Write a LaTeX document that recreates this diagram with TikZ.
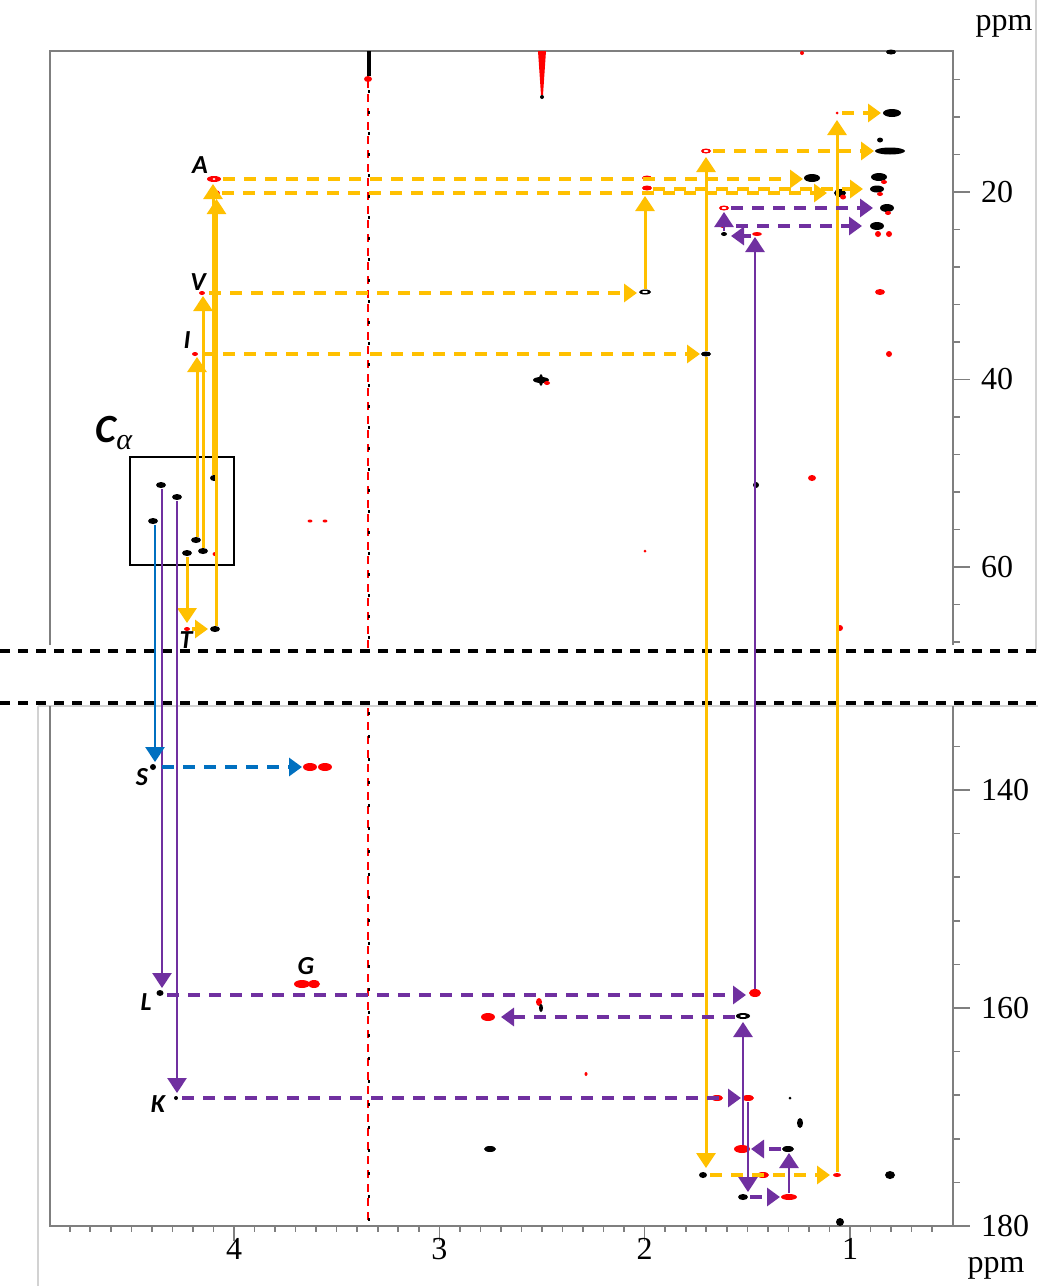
\documentclass[tikz,border=0pt]{standalone}
\usepackage{fontspec}
\setmainfont{Liberation Serif}
\newfontfamily\lblfont{Carlito}
\usetikzlibrary{arrows.meta}
\definecolor{gold}{HTML}{FFC000}
\definecolor{purp}{HTML}{7030A0}
\definecolor{blu}{HTML}{0070C0}
\definecolor{axgray}{HTML}{7F7F7F}
\newcommand{\pkb}[4]{\fill[black] (#1,#2) ellipse [x radius=#3, y radius=#4];}
\newcommand{\pkr}[4]{\fill[red] (#1,#2) ellipse [x radius=#3, y radius=#4];}
\newcommand{\pkw}[4]{\fill[white] (#1,#2) ellipse [x radius=#3, y radius=#4];}
\tikzset{
  gs/.style={gold, line width=1.5pt, -{Triangle[width=9.5pt,length=7.5pt]}},
  gd/.style={gold, line width=1.6pt, dash pattern=on 6pt off 4.5pt, -{Triangle[width=9pt,length=6.5pt]}},
  ps/.style={purp, line width=1.4pt, -{Triangle[width=9.5pt,length=7.5pt]}},
  pd/.style={purp, line width=1.6pt, dash pattern=on 6pt off 4.5pt, -{Triangle[width=9pt,length=6.5pt]}},
  bs/.style={blu, line width=1.4pt, -{Triangle[width=9.5pt,length=7.5pt]}},
  bd/.style={blu, line width=1.6pt, dash pattern=on 6pt off 4.5pt, -{Triangle[width=9pt,length=6.5pt]}},
  axis/.style={axgray, line width=0.8pt},
  faint/.style={gray!35, line width=0.6pt},
  brk/.style={black, line width=1.6pt, dash pattern=on 5pt off 4pt},
  lbl/.style={font={\lblfont\bfseries\itshape\fontsize{13}{13}\selectfont}},
  num/.style={font={\fontsize{16}{16}\selectfont}},
}
\begin{document}
\begin{tikzpicture}[x=0.5pt,y=-0.5pt]
\useasboundingbox (0,0) rectangle (1038,1286);
\fill[white] (0,0) rectangle (1038,1286);

% ---------- frames and axes ----------
\draw[faint] (1036,0) -- (1036,651);
\draw[faint] (38,706) -- (38,1286);
\draw[faint] (38,706) -- (1038,706);
\draw[axis] (50,645) -- (50,51) -- (953,51) -- (953,645);
\draw[axis] (50,706) -- (50,1226) -- (953,1226) -- (953,706);
\foreach \c in {8,12,...,68} \draw[axis] (953,{192+(\c-20)*9.375}) -- ++(7,0);
\foreach \c in {136,140,...,180} \draw[axis] (953,{790+(\c-140)*10.9}) -- ++(7,0);
\foreach \c in {20,40,60} {
  \draw[axis] (953,{192+(\c-20)*9.375}) -- ++(17,0);
  \node[num, anchor=west] (ly\c) at (974,{192+(\c-20)*9.375}) {\c};
}
\foreach \c in {140,160,180} {
  \draw[axis] (953,{790+(\c-140)*10.9}) -- ++(17,0);
  \node[num, anchor=west] (ly\c) at (974,{790+(\c-140)*10.9}) {\c};
}
\foreach \i in {6,...,48} \draw[axis] ({850+(1-\i/10)*205.33},1226) -- ++(0,6);
\foreach \p in {1,2,3,4} {
  \draw[axis] ({850+(1-\p)*205.33},1226) -- ++(0,15);
  \node[num] (lx\p) at ({850+(1-\p)*205.33},1249) {\p};
}
\node[num] (ppmtop) at (1004,26) {ppm};
\node[num] (ppmbot) at (996,1268) {ppm};

% ---------- break ----------
\draw[brk] (0,651) -- (1038,651);
\draw[brk] (0,703) -- (1038,703);

% ---------- solvent stripes ----------
\draw[red, line width=0.9pt, dash pattern=on 4pt off 3pt] (368,80) -- (368,650);
\draw[black, line width=0.9pt, dash pattern=on 1.5pt off 9pt] (369,90) -- (369,650);
\draw[red, line width=0.9pt, dash pattern=on 4pt off 3pt] (368,708) -- (368,1222);
\draw[black, line width=0.9pt, dash pattern=on 1.5pt off 10pt] (369,712) -- (369,1222);
\draw[black, line width=2pt] (369,51) -- (369,76);
\pkr{368}{79}{4}{3}
\fill[red] (538,51) -- (546,51) -- (543,95) -- (541,95) -- cycle;
\pkb{542}{97}{2}{2}

% ---------- peaks: upper panel ----------
\pkr{214}{179}{7}{3}  \pkw{214}{179}{1.5}{1}
\pkr{215}{193}{5}{3}
\pkr{202}{293}{3}{2}
\pkr{195}{354}{3}{2}
\pkb{214}{478}{4}{3}
\pkb{196}{540}{5}{3}
\pkb{203}{551}{5}{3}
\pkb{187}{553}{5}{3}
\pkr{215}{554}{2.5}{2}
\pkb{161}{485}{5}{3}
\pkb{177}{497}{5}{3}
\pkb{153}{521}{5}{3}
\pkr{187}{629}{3}{2}
\pkb{215}{629}{5}{3}
\pkr{647}{178}{5}{2.5}
\pkr{647}{188}{5}{2.5}
\pkb{645}{292}{6}{2.5} \pkw{645}{292}{3}{1}
\pkb{706}{354}{5}{2.5}
\pkr{706}{151}{5}{2.5} \pkw{706}{151}{2.5}{1}
\pkr{724}{208}{5}{2.5} \pkw{724}{208}{2.5}{1}
\pkr{723}{226}{3}{2}
\pkb{724}{234}{3}{2}
\pkr{757}{234}{5}{2}
\pkr{837}{113}{1.5}{1.5}
\pkb{892}{113}{9}{4}
\pkb{880}{140}{3}{2.5}
\pkb{890}{151}{15}{3.5}
\pkb{812}{178}{8}{4}
\pkb{879}{177}{8}{4}
\pkr{884}{182}{3}{2}
\pkb{877}{189}{7}{3.5}
\pkr{880}{194}{3}{2}
\pkb{840}{193}{6}{4}
\pkr{843}{197}{3}{2.5}
\pkb{887}{208}{7}{4}
\pkr{888}{213}{3}{2}
\pkb{877}{226}{7}{4}
\pkr{878}{234}{3}{3}
\pkr{889}{234}{3}{3}
\pkr{880}{292}{5}{3}
\pkr{889}{354}{3}{3}
\pkb{541}{380}{8}{3}
\pkb{541}{380}{2}{6}
\pkr{547}{383}{3}{2}
\pkr{812}{478}{4}{3}
\pkb{756}{485}{3}{3}
\pkr{310}{521}{2.5}{1.5}
\pkr{325}{521}{2.5}{1.5}
\pkr{645}{551}{1.5}{1.5}
\pkr{840}{628}{3}{3}
\pkb{891}{52}{5}{2.5}
\pkr{802}{53}{2}{2}

% ---------- peaks: lower panel ----------
\pkb{153}{767}{3}{3}
\pkr{310}{767}{7}{4}
\pkr{325}{767}{7}{4}
\pkr{302}{984}{8}{4}
\pkr{314}{984}{6}{4}
\pkb{160}{993}{3.5}{3}
\pkb{176}{1098}{2}{2}
\pkr{755}{993}{6}{4}
\pkb{743}{1016}{7}{3} \pkw{743}{1016}{3}{1}
\pkr{539}{1002}{3}{4}
\pkb{541}{1008}{2}{4}
\pkr{488}{1017}{7}{4}
\pkr{586}{1074}{1.5}{2}
\pkr{717}{1098}{6}{3}
\pkr{748}{1098}{6}{3}
\pkb{790}{1098}{1.5}{1.5}
\pkb{800}{1123}{3}{5}
\pkb{490}{1149}{6}{3}
\pkr{742}{1149}{8}{4}
\pkb{788}{1149}{6}{3}
\pkb{703}{1175}{4}{3}
\pkr{763}{1175}{6}{3}
\pkr{837}{1175}{4}{2}
\pkb{890}{1175}{5}{4}
\pkb{743}{1197}{5}{3}
\pkr{789}{1197}{8}{3}
\pkb{840}{1222}{4}{4}

% ---------- C alpha box ----------
\draw[black, line width=1.1pt] (130,457) rectangle (234,565);
\node[font={\lblfont\bfseries\itshape\fontsize{20}{20}\selectfont}, inner sep=0pt] (calpha) at (114,433) {C\raisebox{-0.4ex}{\normalfont\itshape\fontsize{15}{15}\selectfont α}};

% ---------- residue labels ----------
\node[lbl] (lA) at (200,165) {A};
\node[lbl] (lV) at (198,282) {V};
\node[lbl] (lI) at (187,340) {I};
\node[lbl] (lT) at (186,640) {T};
\node[lbl] (lS) at (142,777) {S};
\node[lbl] (lG) at (306,966) {G};
\node[lbl] (lL) at (146,1002) {L};
\node[lbl] (lK) at (158,1104) {K};

% ---------- gold arrows ----------
\draw[gs] (197,537) coordinate (gIa) -- (197,357) coordinate (gIb);
\draw[gs] (203,548) coordinate (gVa) -- (203,296) coordinate (gVb);
\draw[gs] (213,475) coordinate (gA1a) -- (213,184) coordinate (gA1b);
\draw[gs] (216.5,626) coordinate (gA2a) -- (216.5,199) coordinate (gA2b);
\draw[gs] (187,557) coordinate (gTa) -- (187,623) coordinate (gTb);
\draw[gs] (645,289) coordinate (gVVa) -- (645,196) coordinate (gVVb);
\draw[gs] (706,351) coordinate (gIIa) -- (706,157) coordinate (gIIb);
\draw[gs] (706,357) coordinate (gIIc) -- (706,1168) coordinate (gIId);
\draw[gs] (837,1172) coordinate (gXa) -- (837,120) coordinate (gXb);
\draw[gd] (223,179) coordinate (hA1a) -- (803,179) coordinate (hA1b);
\draw[gd] (222,193) coordinate (hA2a) -- (827,193) coordinate (hA2b);
\draw[gd] (653,189) coordinate (hA3a) -- (863,189) coordinate (hA3b);
\draw[gd] (209,293) coordinate (hVa) -- (637,293) coordinate (hVb);
\draw[gd] (202,354) coordinate (hIa) -- (700,354) coordinate (hIb);
\draw[gd] (713,151) coordinate (hBa) -- (874,151) coordinate (hBb);
\draw[gd] (842,113) coordinate (hCa) -- (881,113) coordinate (hCb);
\draw[gd] (192,629) coordinate (hTa) -- (208,629) coordinate (hTb);
\draw[gd] (710,1175) coordinate (hDa) -- (830,1175) coordinate (hDb);

% ---------- purple arrows ----------
\draw[ps] (162,489) coordinate (pLa) -- (162,988) coordinate (pLb);
\draw[ps] (177,501) coordinate (pKa) -- (177,1093) coordinate (pKb);
\draw[ps] (755,989) coordinate (pLLa) -- (755,237) coordinate (pLLb);
\draw[ps] (724,231) coordinate (pMa) -- (724,212) coordinate (pMb);
\draw[ps] (743,1145) coordinate (pNa) -- (743,1022) coordinate (pNb);
\draw[ps] (748,1102) coordinate (pOa) -- (748,1192) coordinate (pOb);
\draw[ps] (789,1193) coordinate (pPa) -- (789,1153) coordinate (pPb);
\draw[pd] (167,995) coordinate (qLa) -- (746,995) coordinate (qLb);
\draw[pd] (182,1098) coordinate (qKa) -- (741,1098) coordinate (qKb);
\draw[pd] (735,1017) coordinate (qNa) -- (501,1017) coordinate (qNb);
\draw[pd] (731,208) coordinate (qMa) -- (873,208) coordinate (qMb);
\draw[pd] (736,226) coordinate (qRa) -- (862,226) coordinate (qRb);
\draw[pd] (751,236) coordinate (qSa) -- (731,236) coordinate (qSb);
\draw[pd] (781,1149) coordinate (qUa) -- (751,1149) coordinate (qUb);
\draw[pd] (750,1197) coordinate (qWa) -- (780,1197) coordinate (qWb);

% ---------- blue arrows ----------
\draw[bs] (155,525) coordinate (bSa) -- (155,762) coordinate (bSb);
\draw[bd] (162,767) coordinate (cSa) -- (302,767) coordinate (cSb);
\end{tikzpicture}
\end{document}
